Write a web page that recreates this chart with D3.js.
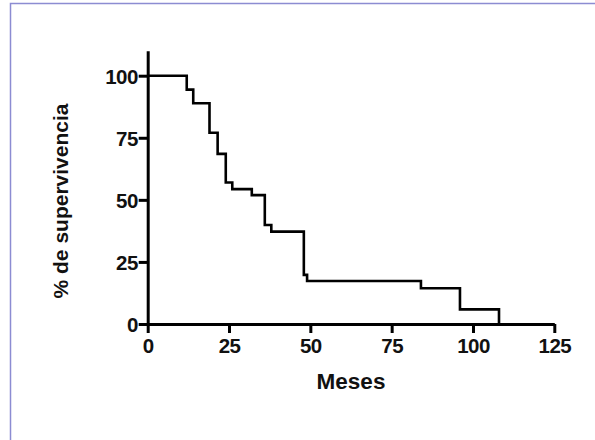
<!DOCTYPE html>
<html>
<head>
<meta charset="utf-8">
<script src="https://cdnjs.cloudflare.com/ajax/libs/d3/7.8.5/d3.min.js"></script>
<style>
  body { margin: 0; background: #fff; }
  svg { display: block; }
</style>
</head>
<body>
<div id="chart"></div>
<script>
// Kaplan-Meier survival steps
const meses = [0, 12, 14, 19, 21.5, 24, 26, 32, 36, 38, 48, 49, 84, 96, 108];
const supervivencia = [100, 94.4, 88.9, 77.0, 68.5, 57.0, 54.3, 51.9, 39.9, 37.2, 19.8, 17.3, 14.4, 5.9, 0];
const xTicks = [0, 25, 50, 75, 100, 125];
const yTicks = [0, 25, 50, 75, 100];

const width = 595, height = 440;
const font = "'Liberation Sans', Arial, sans-serif";

const svg = d3.select("#chart")
  .append("svg")
  .attr("width", width)
  .attr("height", height);

// frame around the figure
svg.append("rect")
  .attr("x", 10.5)
  .attr("y", 3.5)
  .attr("width", width + 20)
  .attr("height", height + 20)
  .attr("fill", "none")
  .attr("stroke", "#8c8cd2")
  .attr("stroke-width", 1.5);

const x = d3.scaleLinear().domain([0, 125]).range([147.7, 554.3]);
const y = d3.scaleLinear().domain([0, 110]).range([324, 324 - 110 * 2.483]);

// survival curve
const points = meses.map((m, i) => [m, supervivencia[i]]);
const line = d3.line()
  .x(d => x(d[0]))
  .y(d => y(d[1]))
  .curve(d3.curveStepAfter);

svg.append("path")
  .datum(points)
  .attr("d", line)
  .attr("fill", "none")
  .attr("stroke", "#000")
  .attr("stroke-width", 2.6);

// axes
const xAxis = svg.append("g")
  .attr("transform", `translate(0,${y(0)})`)
  .call(d3.axisBottom(x).tickValues(xTicks).tickSize(9).tickSizeOuter(0).tickPadding(5));

const yAxis = svg.append("g")
  .attr("transform", `translate(${x(0)},0)`)
  .call(d3.axisLeft(y).tickValues(yTicks).tickSize(9).tickSizeOuter(0).tickPadding(1));

[xAxis, yAxis].forEach(g => {
  g.select(".domain").attr("stroke", "#000").attr("stroke-width", 3);
  g.selectAll(".tick line").attr("stroke", "#000").attr("stroke-width", 3);
  g.selectAll(".tick text")
    .attr("fill", "#111")
    .style("font-family", font)
    .style("font-weight", "bold")
    .style("font-size", "20.5px")
    .style("letter-spacing", "-0.6px");
});
yAxis.selectAll(".tick text").attr("dy", "0.36em");

// axis titles
svg.append("text")
  .attr("x", 351)
  .attr("y", 389)
  .attr("text-anchor", "middle")
  .style("font-family", font)
  .style("font-weight", "bold")
  .style("font-size", "22.5px")
  .attr("fill", "#111")
  .text("Meses");

svg.append("text")
  .attr("transform", "translate(68,201) rotate(-90)")
  .attr("text-anchor", "middle")
  .style("font-family", font)
  .style("font-weight", "bold")
  .style("font-size", "21px")
  .attr("fill", "#111")
  .text("% de supervivencia");
</script>
</body>
</html>
